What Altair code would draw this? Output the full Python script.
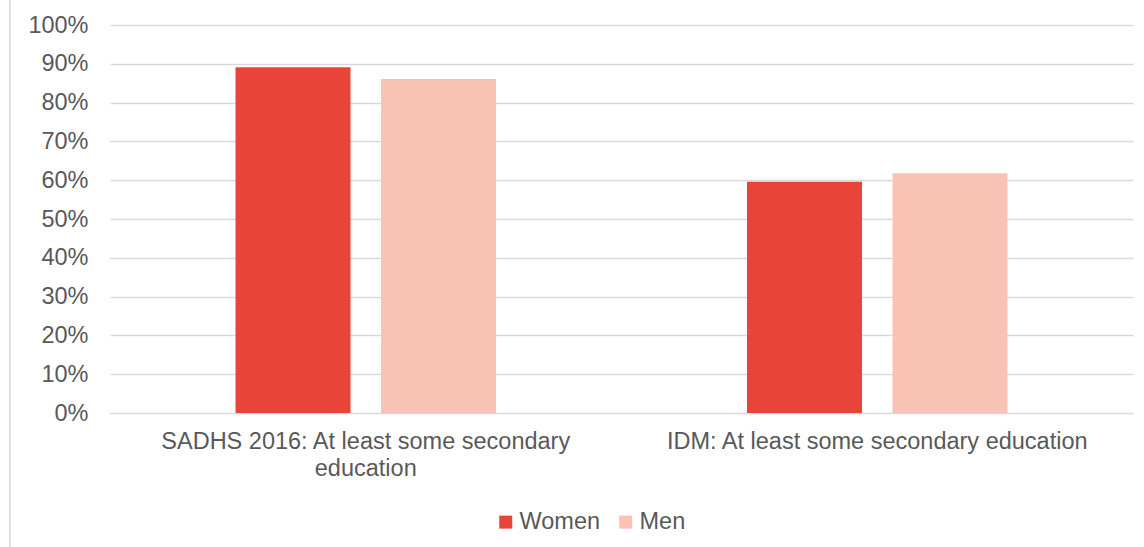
import altair as alt
import pandas as pd

categories = ["SADHS 2016: At least some secondary education",
              "IDM: At least some secondary education"]
series = ["Women", "Men"]
women = [89.1, 59.6]
men = [86.1, 61.8]
colors = ["#E8443A", "#F8C2B4"]

rows = []
for i, c in enumerate(categories):
    rows.append({"category": c, "sex": "Women", "value": women[i]})
    rows.append({"category": c, "sex": "Men", "value": men[i]})
df = pd.DataFrame(rows)

font = "Liberation Sans"
txt = "#595959"

label_expr = ("datum.label == 'SADHS 2016: At least some secondary education' ? "
              "['SADHS 2016: At least some secondary', 'education'] : datum.label")

bars = alt.Chart(df).mark_bar().encode(
    x=alt.X("category:N", sort=categories, title=None,
            scale=alt.Scale(paddingInner=0, paddingOuter=0),
            axis=alt.Axis(labelAngle=0, labelExpr=label_expr, labelFont=font,
                          labelFontSize=23.5, labelColor=txt, labelLineHeight=27,
                          labelPadding=16, ticks=False, domain=False, labelLimit=600)),
    xOffset=alt.XOffset("sex:N", sort=series,
                        scale=alt.Scale(paddingInner=0.2096, paddingOuter=0.8626)),
    y=alt.Y("value:Q", title=None,
            scale=alt.Scale(domain=[0, 100], nice=False),
            axis=alt.Axis(values=list(range(0, 101, 10)), labelExpr="datum.value + '%'",
                          labelFont=font, labelFontSize=23.5, labelColor=txt,
                          labelPadding=22, ticks=False, domain=False,
                          grid=True, gridColor="#D9D9D9", gridWidth=1.5)),
    color=alt.Color("sex:N", sort=series,
                    scale=alt.Scale(domain=series, range=colors),
                    legend=alt.Legend(title=None, orient="none", direction="horizontal",
                                      legendX=384, legendY=485, symbolType="square",
                                      symbolSize=169, symbolStrokeWidth=0,
                                      labelFont=font, labelFontSize=23.5, labelColor=txt,
                                      labelOffset=2, columnPadding=13, padding=0)),
)

border = alt.Chart(pd.DataFrame({"a": [0]})).mark_rule(color="#D9D9D9", strokeWidth=1.5).encode(
    x=alt.value(-100), y=alt.value(-25), y2=alt.value(530)
)

chart = alt.layer(bars, border).properties(
    width=1023, height=388,
    background="white",
    autosize=alt.AutoSizeParams(type="none"),
    padding={"left": 110, "top": 25, "right": 11, "bottom": 134},
).configure_view(stroke=None)

chart.save("out.html", embed_options={"renderer": "svg", "actions": False})
